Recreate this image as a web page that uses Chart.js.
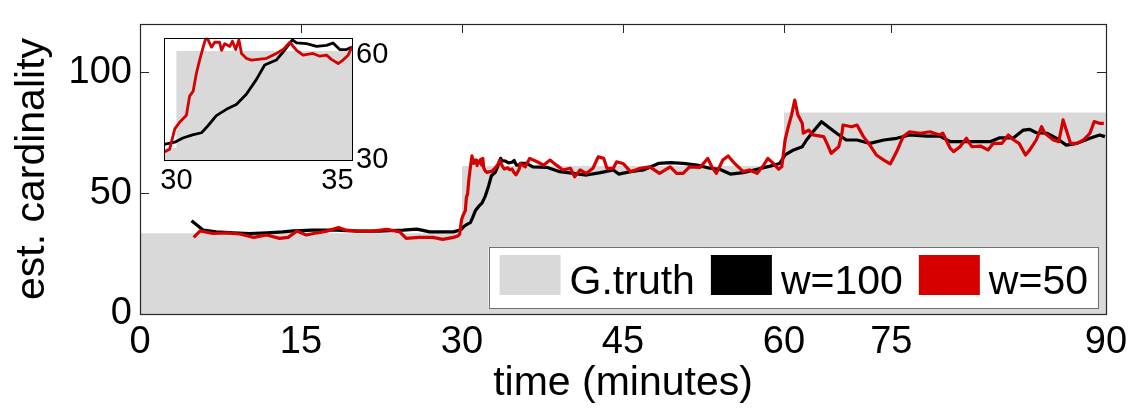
<!DOCTYPE html>
<html>
<head>
<meta charset="utf-8">
<script src="https://cdn.jsdelivr.net/npm/chart.js@4.4.1/dist/chart.umd.min.js"></script>
<style>
  html, body { margin: 0; padding: 0; background: #fff; }
  #wrap { position: relative; width: 1140px; height: 411px; }
  #mainChart { position: absolute; left: 0; top: 0; }
  #insetChart { position: absolute; left: 150px; top: 25px; }
</style>
</head>
<body>
<div id="wrap">
  <canvas id="mainChart" width="1140" height="411"></canvas>
  <canvas id="insetChart" width="250" height="175"></canvas>
</div>
<script>
// ground truth steps
const truthBreaks = [0, 30, 60, 90];
const truthLevels = [33.4, 61.2, 83.4];

// estimate, window w=100
const w100Time = [4.8, 5.3, 5.9, 7.1, 8.7, 10.2, 11.8, 13.3, 14.3, 16.1, 18.3, 20.2, 22.3, 24.5, 25.8, 27.0, 29.2,
  29.62, 29.95, 30.2, 30.5, 30.78, 30.98, 31.24, 31.55, 31.86, 32.17, 32.48, 32.74, 33.1, 33.31, 33.47, 33.6, 33.73,
  34.04, 34.35, 34.66, 34.86, 35.07, 35.28, 35.45, 36.0, 36.6, 37.9, 39.1, 40.4, 41.6, 42.9, 44.1, 44.6, 45.7, 46.9,
  48.3, 49.4, 50.6, 51.9, 53.1, 54.0, 55.0, 56.2, 57.5, 58.7, 59.6, 60.1, 60.9, 61.7, 62.1, 62.7, 63.5, 64.1, 64.9,
  65.8, 66.8, 68.0, 69.3, 70.5, 71.7, 73.3, 74.5, 75.5, 76.7, 78.0, 79.2, 80.1, 81.4, 82.3, 82.9, 83.5, 84.5, 85.4,
  86.3, 87.3, 88.5, 89.4, 89.9];
const w100Value = [38.6, 36.8, 34.7, 34.0, 33.6, 33.3, 33.6, 34.0, 34.4, 34.7, 34.7, 34.3, 34.3, 34.7, 35.1, 34.0, 34.0,
  34.5, 35.1, 36.3, 37.2, 37.8, 39.8, 42.7, 44.5, 45.9, 48.8, 53.0, 57.2, 58.6, 60.9, 62.8, 64.4, 63.5,
  63.3, 62.5, 62.8, 63.5, 61.6, 61.6, 62.3, 62.3, 60.9, 60.7, 58.9, 58.2, 57.5, 58.5, 59.6, 57.9, 58.9, 59.6,
  62.3, 62.6, 62.3, 61.6, 60.3, 59.9, 57.9, 58.5, 59.9, 61.2, 62.3, 65.8, 67.9, 69.2, 72.0, 75.4, 79.6, 77.5, 74.8,
  72.0, 72.0, 70.6, 72.0, 72.7, 74.1, 73.6, 73.6, 71.3, 71.3, 71.3, 71.3, 72.9, 72.9, 76.1, 76.4, 75.0, 74.8, 72.7,
  69.9, 70.6, 72.7, 74.1, 73.4];

// estimate, window w=50
const w50Time = [5.0, 5.6, 6.8, 8.1, 9.3, 10.6, 11.8, 13.0, 13.8, 14.6, 15.5, 16.5, 17.4, 18.5, 19.2, 20.5, 21.7, 23.0,
  24.2, 24.8, 26.0, 27.3, 28.2, 29.2, 29.62, 29.79, 29.95, 30.1, 30.31, 30.41, 30.52, 30.62, 30.72, 30.83, 30.93,
  31.09, 31.19, 31.34, 31.4, 31.5, 31.66, 31.74, 31.84, 31.94, 32.02, 32.17, 32.33, 32.8, 33.1, 33.31, 33.52, 33.73,
  33.93, 34.24, 34.45, 34.66, 34.81, 35.02, 35.17, 35.33, 35.45, 35.9, 36.3, 37.0, 37.6, 38.2, 38.8, 39.4, 40.1,
  40.5, 41.0, 41.6, 42.2, 42.7, 43.2, 43.5, 44.1, 44.4, 45.0, 45.7, 46.6, 47.5, 48.4, 49.4, 50.0, 50.6, 51.2, 52.2,
  52.9, 53.3, 53.7, 54.3, 54.8, 55.4, 56.2, 56.8, 57.5, 58.1, 58.5, 59.0, 59.5, 59.8, 60.1, 60.4, 60.7, 61.0, 61.3,
  61.7, 61.8, 62.3, 62.7, 63.7, 64.0, 64.4, 65.1, 65.4, 65.5, 66.3, 66.8, 67.4, 68.0, 68.6, 69.3, 69.9, 70.5, 71.1,
  71.7, 72.7, 73.6, 74.5, 74.8, 75.5, 75.8, 76.4, 77.0, 77.5, 78.3, 79.0, 79.5, 80.3, 80.9, 81.4, 81.9, 82.5, 82.9,
  83.5, 84.0, 84.3, 85.1, 85.6, 86.0, 86.3, 86.7, 87.3, 87.9, 88.5, 88.9, 89.4, 89.8];
const w50Value = [31.7, 34.4, 33.3, 33.6, 33.1, 31.7, 32.7, 31.3, 31.7, 34.3, 32.7, 33.6, 34.3, 35.8, 34.7, 34.3, 34.3, 35.0,
  34.0, 31.3, 31.7, 31.7, 30.9, 31.7, 32.3, 33.1, 38.9, 40.8, 42.8, 48.3, 49.7, 54.8, 58.6, 62.3, 65.4,
  62.3, 63.7, 63.7, 61.4, 63.3, 62.5, 64.0, 61.6, 64.4, 60.5, 59.1, 58.6, 59.1, 60.5, 61.6, 63.7, 61.4,
  60.0, 60.5, 59.7, 60.0, 58.8, 57.6, 58.6, 60.0, 62.3, 60.9, 64.4, 63.0, 61.6, 63.7, 61.6, 59.6, 60.3,
  56.8, 59.6, 58.2, 60.3, 65.1, 64.4, 60.3, 60.3, 63.0, 62.3, 58.9, 60.3, 60.9, 58.2, 60.9, 58.2, 58.2, 60.9, 60.7,
  64.4, 60.7, 58.2, 63.7, 65.4, 62.3, 58.9, 59.6, 58.2, 61.6, 64.4, 62.3, 59.9, 61.0, 72.0, 77.5, 82.3, 88.5, 82.3,
  78.9, 74.8, 76.1, 74.1, 73.4, 70.6, 66.5, 69.2, 74.8, 78.2, 77.5, 78.2, 73.4, 69.9, 65.8, 63.7, 62.1, 67.2, 73.4,
  75.4, 74.8, 75.4, 74.1, 74.8, 68.5, 67.2, 69.2, 72.7, 69.2, 69.5, 67.9, 70.6, 70.6, 74.1, 72.0, 70.6, 65.8, 67.9,
  72.0, 77.5, 74.8, 72.0, 71.3, 80.3, 76.1, 70.6, 70.6, 72.0, 74.8, 79.6, 78.9, 78.9];

// axes
const xTickValues = [0, 15, 30, 45, 60, 70, 90];
const xTickLabels = ['0', '15', '30', '45', '60', '75', '90'];
const yTickValues = [0, 50, 100];
const insetXTicks = [30, 35];
const insetYTicks = [30, 60];

const seriesNames = ['G.truth', 'w=100', 'w=50'];
const seriesColors = ['#d9d9d9', '#000000', '#d60000'];
const FONT = '"Liberation Sans", Arial, Helvetica, sans-serif';

function toPoints(xs, ys) {
  return xs.map((x, i) => ({ x: x, y: ys[i] }));
}

function truthPoints() {
  const pts = [];
  truthLevels.forEach((v, i) => {
    pts.push({ x: truthBreaks[i], y: v });
    pts.push({ x: truthBreaks[i + 1], y: v });
  });
  return pts;
}

function makeDatasets(lw) {
  return [
    { label: seriesNames[0], data: truthPoints(), borderWidth: 0, borderColor: seriesColors[0],
      backgroundColor: seriesColors[0], fill: 'start', pointRadius: 0, order: 3 },
    { label: seriesNames[1], data: toPoints(w100Time, w100Value), borderColor: seriesColors[1],
      backgroundColor: seriesColors[1], borderWidth: lw, pointRadius: 0, fill: false, order: 2,
      borderJoinStyle: 'round' },
    { label: seriesNames[2], data: toPoints(w50Time, w50Value), borderColor: seriesColors[2],
      backgroundColor: seriesColors[2], borderWidth: lw, pointRadius: 0, fill: false, order: 1,
      borderJoinStyle: 'round' }
  ];
}

// white plot background + inward ticks + box (matlab look)
const boxAxes = {
  id: 'boxAxes',
  beforeDatasetsDraw(chart, args, opts) {
    const { ctx, chartArea: a, scales: { x, y } } = chart;
    ctx.save();
    ctx.strokeStyle = opts.color;
    ctx.lineWidth = 1;
    ctx.beginPath();
    if (opts.tickLen > 0) {
      x.ticks.forEach(t => {
        const px = Math.round(x.getPixelForValue(t.value)) + 0.5;
        ctx.moveTo(px, a.bottom); ctx.lineTo(px, a.bottom - opts.tickLen);
        ctx.moveTo(px, a.top); ctx.lineTo(px, a.top + opts.tickLen);
      });
      y.ticks.forEach(t => {
        const py = Math.round(y.getPixelForValue(t.value)) + 0.5;
        ctx.moveTo(a.left, py); ctx.lineTo(a.left + opts.tickLen, py);
        ctx.moveTo(a.right, py); ctx.lineTo(a.right - opts.tickLen, py);
      });
    }
    ctx.stroke();
    ctx.restore();
  },
  beforeDraw(chart, args, opts) {
    if (!opts.fillBg) return;
    const { ctx, chartArea: a } = chart;
    ctx.save();
    ctx.fillStyle = '#fff';
    ctx.fillRect(a.left, a.top, a.right - a.left, a.bottom - a.top);
    ctx.restore();
  },
  afterDatasetsDraw(chart, args, opts) {
    const { ctx, chartArea: a } = chart;
    ctx.save();
    ctx.strokeStyle = opts.color;
    ctx.lineWidth = opts.lineWidth;
    ctx.strokeRect(Math.round(a.left) + 0.5, Math.round(a.top) + 0.5,
      Math.round(a.right - a.left), Math.round(a.bottom - a.top));
    ctx.restore();
  }
};

// legend drawn inside the axes, bottom right
const boxLegend = {
  id: 'boxLegend',
  afterDraw(chart, args, opts) {
    if (!opts.show) return;
    const { ctx, chartArea: a } = chart;
    const ds = chart.data.datasets;
    ctx.save();
    ctx.font = opts.font;
    const widths = ds.map(d => ctx.measureText(d.label).width);
    const total = opts.padL + ds.length * (opts.sw + opts.gap) +
      widths.reduce((s, w) => s + w, 0) + (ds.length - 1) * opts.itemGap + opts.padR;
    const right = a.right - opts.offR;
    const bottom = a.bottom - opts.offB;
    const left = right - total;
    const top = bottom - opts.h;
    ctx.fillStyle = '#fff';
    ctx.fillRect(left, top, total, opts.h);
    ctx.strokeStyle = opts.border;
    ctx.lineWidth = 1;
    ctx.strokeRect(Math.round(left) + 0.5, Math.round(top) + 0.5, Math.round(total), opts.h);
    let x = left + opts.padL;
    ds.forEach((d, i) => {
      ctx.fillStyle = d.borderWidth ? d.borderColor : d.backgroundColor;
      ctx.fillRect(x, top + opts.swTop, opts.sw, opts.swH);
      x += opts.sw + opts.gap;
      ctx.fillStyle = '#000';
      ctx.textBaseline = 'alphabetic';
      ctx.fillText(d.label, x, top + opts.base);
      x += widths[i] + opts.itemGap;
    });
    ctx.restore();
  }
};

new Chart(document.getElementById('mainChart'), {
  type: 'line',
  data: { datasets: makeDatasets(3.2) },
  plugins: [boxAxes, boxLegend],
  options: {
    responsive: false,
    animation: false,
    devicePixelRatio: 1,
    layout: { padding: { left: 0, top: 24, right: 34, bottom: 0 } },
    plugins: {
      legend: { display: false },
      tooltip: { enabled: false },
      boxAxes: { color: '#262626', lineWidth: 1.2, tickLen: 9 },
      boxLegend: { show: true, font: '41px ' + FONT, border: '#707070', padL: 11, sw: 61, gap: 9,
        itemGap: 16, padR: 10, offR: 8, offB: 6, h: 61, swTop: 8, swH: 40, base: 47 }
    },
    scales: {
      x: {
        type: 'linear', min: 0, max: 90,
        afterBuildTicks: s => { s.ticks = xTickValues.map(v => ({ value: v })); },
        afterFit: s => { s.height = 97; },
        grid: { display: false, drawTicks: false },
        border: { display: false },
        ticks: {
          autoSkip: false, maxRotation: 0, padding: 6, color: '#000',
          font: { family: FONT, size: 38 },
          callback: (v, i) => xTickLabels[i]
        },
        title: { display: true, text: 'time (minutes)', color: '#000',
          font: { family: FONT, size: 41, lineHeight: 1 }, padding: { top: 0, bottom: 7 } }
      },
      y: {
        min: 0, max: 120,
        afterBuildTicks: s => { s.ticks = yTickValues.map(v => ({ value: v })); },
        afterFit: s => { s.width = 140; },
        grid: { display: false, drawTicks: false },
        border: { display: false },
        ticks: { padding: 8, color: '#000', font: { family: FONT, size: 38, lineHeight: 0.6 } },
        title: { display: true, text: 'est. cardinality', color: '#000',
          font: { family: FONT, size: 41, lineHeight: 1 }, padding: { top: 12, bottom: 0 } }
      }
    }
  }
});

// zoomed inset around the first change
new Chart(document.getElementById('insetChart'), {
  type: 'line',
  data: { datasets: makeDatasets(2.8) },
  plugins: [boxAxes],
  options: {
    responsive: false,
    animation: false,
    devicePixelRatio: 1,
    layout: { padding: { left: 14, top: 10, right: 0, bottom: 0 } },
    plugins: {
      legend: { display: false },
      tooltip: { enabled: false },
      boxAxes: { color: '#000', lineWidth: 1, tickLen: 0, fillBg: true }
    },
    scales: {
      x: {
        type: 'linear', min: 29.615, max: 35.45,
        afterBuildTicks: s => { s.ticks = insetXTicks.map(v => ({ value: v })); },
        afterFit: s => { s.height = 40; },
        grid: { display: false, drawTicks: false },
        border: { display: false },
        ticks: { autoSkip: false, maxRotation: 0, padding: 4, color: '#000', font: { family: FONT, size: 29 } }
      },
      y: {
        position: 'right', min: 30, max: 65,
        afterBuildTicks: s => { s.ticks = insetYTicks.map(v => ({ value: v })); },
        afterFit: s => { s.width = 48; },
        grid: { display: false, drawTicks: false },
        border: { display: false },
        ticks: { padding: 4, color: '#000', font: { family: FONT, size: 29, lineHeight: 0.6 } }
      }
    }
  }
});
</script>
</body>
</html>
